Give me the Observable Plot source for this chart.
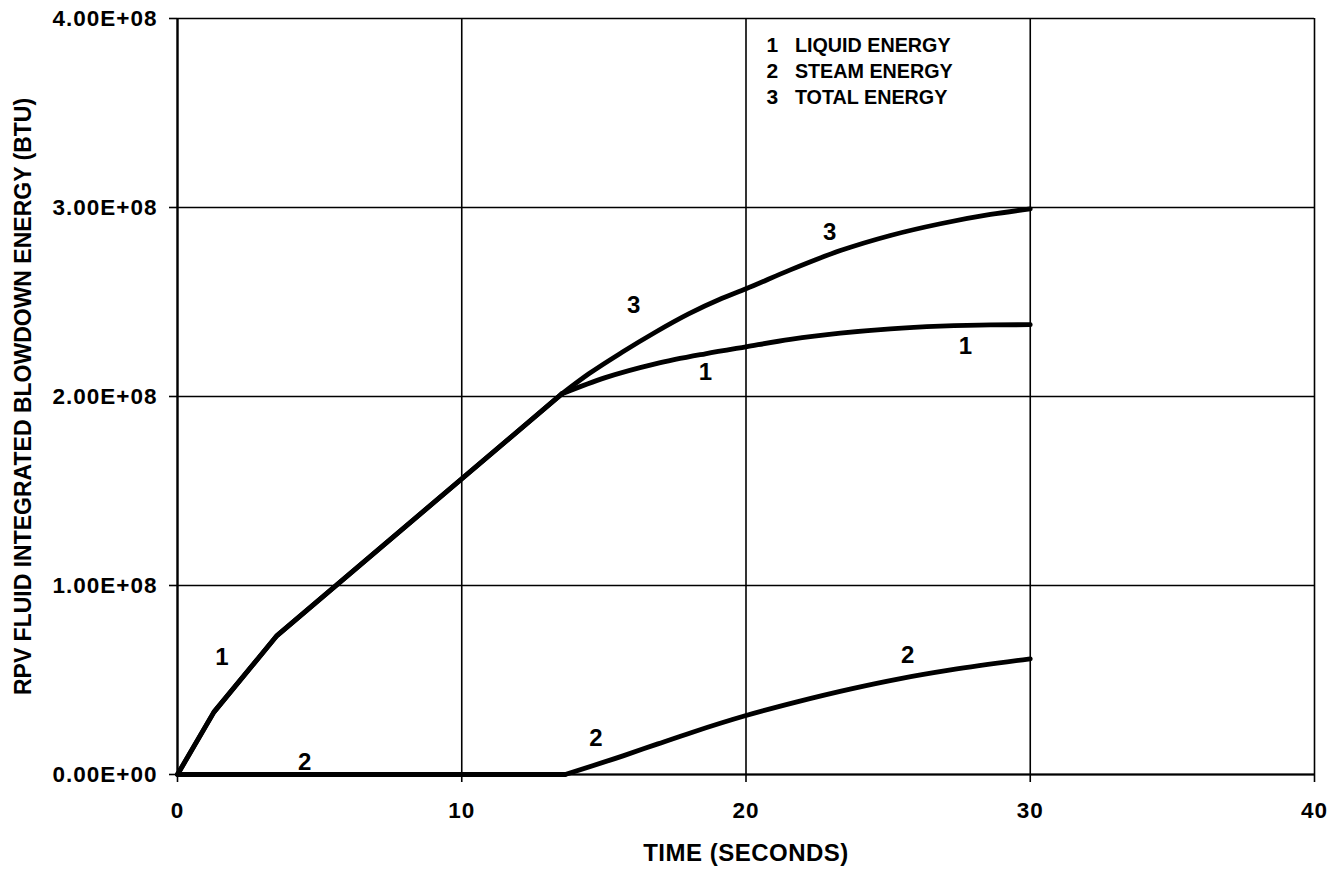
<!DOCTYPE html>
<html>
<head>
<meta charset="utf-8">
<script src="https://cdn.jsdelivr.net/npm/d3@7"></script>
<script src="https://cdn.jsdelivr.net/npm/@observablehq/plot@0.6"></script>
<style>
  html, body { margin: 0; padding: 0; background: white; }
  #chart { width: 1336px; height: 873px; }
  g[aria-description="yticks"] text, g[aria-description="xticks"] text { letter-spacing: 1px; }
  g[aria-description="xtitle"] text { letter-spacing: 0.5px; }
</style>
</head>
<body>
<div id="chart"></div>
<script>
// ---- Data ----
const liquidTime   = [0, 1.28, 3.5, 13.53, 15.05, 16.81, 18.57, 20.0, 21.56, 23.32, 25.08, 26.84, 28.6, 30];
const liquidEnergy = [0, 0.33e8, 0.735e8, 2.015e8, 2.10e8, 2.173e8, 2.226e8, 2.263e8, 2.302e8, 2.335e8, 2.358e8, 2.372e8, 2.379e8, 2.38e8];

const steamTime   = [0, 13.64, 15.7, 16.9, 18.12, 20.0, 21.76, 23.7, 25.39, 27.2, 30];
const steamEnergy = [0, 0, 0.10e8, 0.162e8, 0.224e8, 0.312e8, 0.383e8, 0.453e8, 0.506e8, 0.553e8, 0.612e8];

const totalTime   = [0, 1.28, 3.5, 13.53, 14.47, 15.64, 16.81, 17.98, 19.16, 20.0, 21.56, 23.32, 25.08, 26.84, 28.6, 30];
const totalEnergy = [0, 0.33e8, 0.735e8, 2.015e8, 2.12e8, 2.234e8, 2.34e8, 2.437e8, 2.52e8, 2.57e8, 2.67e8, 2.772e8, 2.852e8, 2.914e8, 2.963e8, 2.993e8];

// curve number annotations
const labelText  = ["1", "2", "3", "1", "3", "1", "2", "2"];
const labelTime  = [1.56, 4.47, 16.05, 18.57, 22.94, 27.72, 14.72, 25.69];
const labelValue = [0.62e8, 0.065e8, 2.481e8, 2.129e8, 2.869e8, 2.265e8, 0.19e8, 0.63e8];

// legend
const legendNumbers = ["1", "2", "3"];
const legendLabels  = ["LIQUID ENERGY", "STEAM ENERGY", "TOTAL ENERGY"];

// ticks
const xTicks = [0, 10, 20, 30, 40];
const yTicks = [0, 1e8, 2e8, 3e8, 4e8];

// ---- Build tables ----
const BREAK = 13.53;       // liquid/total: straight segments before, smooth bend after
const STEAM_START = 13.64; // steam: flat before, smooth rise after
const toRows = (ts, es) => ts.map((t, i) => ({t, e: es[i]}));
const liquid = toRows(liquidTime, liquidEnergy);
const steam  = toRows(steamTime, steamEnergy);
const total  = toRows(totalTime, totalEnergy);
const labels = labelText.map((s, i) => ({s, t: labelTime[i], e: labelValue[i]}));
const legendRowValue = [3.857e8, 3.721e8, 3.584e8];
const legend = legendNumbers.map((n, i) => ({n, s: legendLabels[i], e: legendRowValue[i]}));

function sci(d) {
  if (d === 0) return "0.00E+00";
  const exp = Math.floor(Math.log10(Math.abs(d)));
  const m = d / Math.pow(10, exp);
  return m.toFixed(2) + "E" + (exp >= 0 ? "+" : "-") + String(Math.abs(exp)).padStart(2, "0");
}

const FONT = "'Liberation Sans', Arial, Helvetica, sans-serif";
const lineStyle = {x: "t", y: "e", stroke: "black", strokeWidth: 4.8, strokeLinejoin: "round", strokeLinecap: "round"};
const before = (rows, b) => rows.filter(d => d.t <= b);
const after = (rows, b) => rows.filter(d => d.t >= b);

const chart = Plot.plot({
  width: 1336,
  height: 873,
  marginTop: 18,
  marginRight: 22,
  marginBottom: 99,
  marginLeft: 177,
  style: {fontFamily: FONT, background: "white", color: "black"},
  x: {domain: [0, 40]},
  y: {domain: [0, 4e8]},
  marks: [
    Plot.gridX(xTicks, {stroke: "black", strokeOpacity: 1, strokeWidth: 1.6}),
    Plot.gridY(yTicks, {stroke: "black", strokeOpacity: 1, strokeWidth: 1.6}),
    Plot.ruleX([0], {stroke: "black", strokeWidth: 2.2}),
    Plot.ruleY([0], {stroke: "black", strokeWidth: 2.2}),
    Plot.axisX(xTicks, {tickSize: 8, tickPadding: 20, tickFormat: d => String(d), fontSize: 22.5, fontWeight: "bold", label: null, stroke: "black", strokeWidth: 1.6, ariaDescription: "xticks"}),
    Plot.axisY(yTicks, {tickSize: 8, tickPadding: 12, tickFormat: sci, fontSize: 22.5, fontWeight: "bold", label: null, stroke: "black", strokeWidth: 1.6, ariaDescription: "yticks"}),
    Plot.line(before(steam, STEAM_START), lineStyle),
    Plot.line(after(steam, STEAM_START), {...lineStyle, curve: "monotone-x"}),
    Plot.line(before(total, BREAK), lineStyle),
    Plot.line(after(total, BREAK), {...lineStyle, curve: "monotone-x"}),
    Plot.line(before(liquid, BREAK), lineStyle),
    Plot.line(after(liquid, BREAK), {...lineStyle, curve: "monotone-x"}),
    Plot.text(labels, {x: "t", y: "e", text: "s", fontSize: 24, fontWeight: "bold", fill: "black", lineAnchor: "middle"}),
    Plot.text(legend, {x: () => 20.93, y: "e", text: "n", fontSize: 21, fontWeight: "bold", fill: "black", lineAnchor: "middle"}),
    Plot.text(legend, {x: () => 21.72, y: "e", text: "s", fontSize: 21, fontWeight: "bold", fill: "black", textAnchor: "start", lineAnchor: "middle", ariaDescription: "legend-text"}),
    Plot.text(["TIME (SECONDS)"], {frameAnchor: "bottom", dy: 79, fontSize: 24, fontWeight: "bold", fill: "black", textAnchor: "middle", lineAnchor: "middle", ariaDescription: "xtitle"}),
    Plot.text(["RPV FLUID INTEGRATED BLOWDOWN ENERGY (BTU)"], {frameAnchor: "left", dx: -154, rotate: -90, fontSize: 23, fontWeight: "bold", fill: "black", textAnchor: "middle", lineAnchor: "middle"})
  ]
});

document.getElementById("chart").appendChild(chart);

// condense the legend text like the narrow face of the original
d3.select(chart).selectAll('g[aria-description="legend-text"] text').each(function() {
  const w = this.getComputedTextLength();
  this.setAttribute("textLength", (w * 0.94).toFixed(1));
  this.setAttribute("lengthAdjust", "spacingAndGlyphs");
});
</script>
</body>
</html>
